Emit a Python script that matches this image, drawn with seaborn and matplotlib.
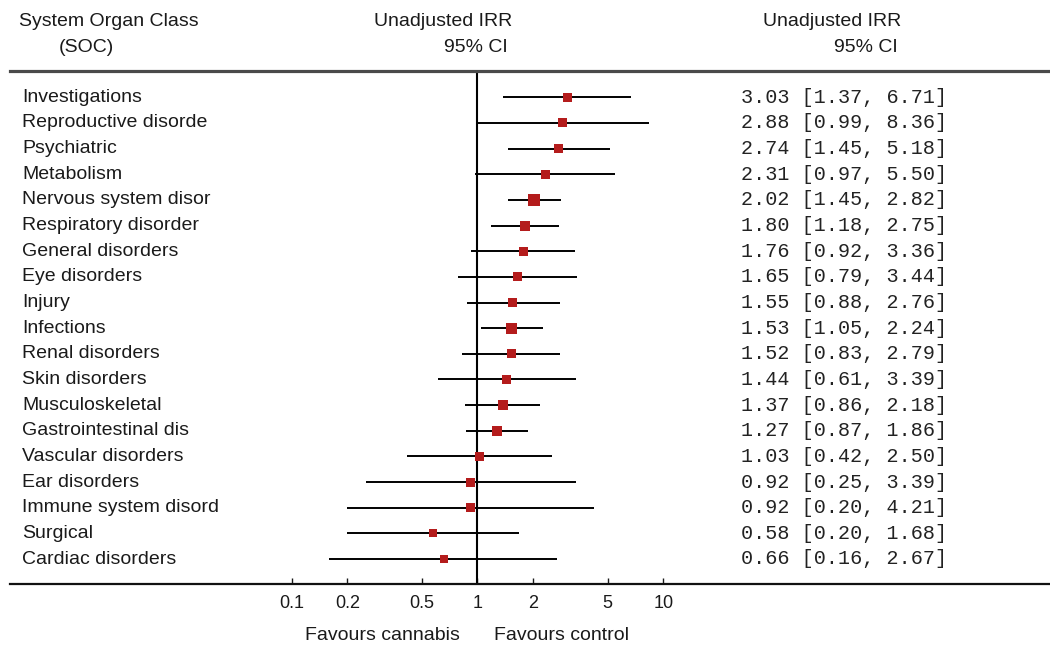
import numpy as np
import pandas as pd
import matplotlib
matplotlib.use('Agg')
import matplotlib.pyplot as plt
import matplotlib.transforms as mtransforms
import seaborn as sns

# data
soc = ['Investigations', 'Reproductive disorde', 'Psychiatric', 'Metabolism',
       'Nervous system disor', 'Respiratory disorder', 'General disorders',
       'Eye disorders', 'Injury', 'Infections', 'Renal disorders',
       'Skin disorders', 'Musculoskeletal', 'Gastrointestinal dis',
       'Vascular disorders', 'Ear disorders', 'Immune system disord',
       'Surgical', 'Cardiac disorders']
irr = [3.03, 2.88, 2.74, 2.31, 2.02, 1.80, 1.76, 1.65, 1.55, 1.53, 1.52,
       1.44, 1.37, 1.27, 1.03, 0.92, 0.92, 0.58, 0.66]
ci_low = [1.37, 0.99, 1.45, 0.97, 1.45, 1.18, 0.92, 0.79, 0.88, 1.05, 0.83,
          0.61, 0.86, 0.87, 0.42, 0.25, 0.20, 0.20, 0.16]
ci_high = [6.71, 8.36, 5.18, 5.50, 2.82, 2.75, 3.36, 3.44, 2.76, 2.24, 2.79,
           3.39, 2.18, 1.86, 2.50, 3.39, 4.21, 1.68, 2.67]
# box size (study weight) in pixels
box_px = [9, 9, 9, 9, 12, 10, 9, 9, 9, 11, 9, 9, 10, 10, 9, 9, 9, 8, 8]
xticks = [0.1, 0.2, 0.5, 1, 2, 5, 10]
xtick_labels = ['0.1', '0.2', '0.5', '1', '2', '5', '10']

sns.set_style('white')
plt.rcParams['font.family'] = ['Liberation Sans', 'DejaVu Sans']

df = pd.DataFrame({'soc': soc, 'irr': irr, 'lo': ci_low, 'hi': ci_high,
                   'row': np.arange(len(soc))})

W, H = 1050, 647
top_px, bot_px, left_px = 71, 584, 10
fig = plt.figure(figsize=(W / 100, H / 100), dpi=100)
ax = fig.add_axes([left_px / W, (H - bot_px) / H, 1 - left_px / W,
                   (bot_px - top_px) / H])

# log axis: 1 sits at x=477.5 px, one decade = 186 px
x0, dec = 477.5, 186.0
ax.set_xscale('log')
ax.set_xlim(10 ** ((left_px - x0) / dec), 10 ** ((W - x0) / dec))
# rows: first at y=97.3 px, spacing 25.65 px
r0, dr = 97.3, 25.65
ax.set_ylim((bot_px - r0) / dr, (top_px - r0) / dr)

ax.hlines(df['row'], df['lo'], df['hi'], color='black', lw=1.4, zorder=2)
ax.axvline(1, color='black', lw=1.5, zorder=1)
sns.scatterplot(data=df, x='irr', y='row', marker='s',
                s=(np.array(box_px) * 0.72) ** 2, color='#b41c1c',
                edgecolor='#b41c1c', linewidth=0, ax=ax, legend=False, zorder=3)

for side in ['left', 'right']:
    ax.spines[side].set_visible(False)
ax.spines['top'].set_color('#4a4a4a')
ax.spines['top'].set_linewidth(2.3)
ax.spines['bottom'].set_color('#111111')
ax.spines['bottom'].set_linewidth(1.6)

ax.set_xticks(xticks)
ax.set_xticklabels(xtick_labels)
ax.minorticks_off()
ax.set_yticks([])
ax.tick_params(axis='x', bottom=True, direction='in', length=4, width=1,
               labelsize=13, pad=8, colors='#1a1a1a')
ax.set_xlabel('')
ax.set_ylabel('')

trans = mtransforms.blended_transform_factory(fig.transFigure, ax.transData)
for _, r in df.iterrows():
    ax.text(22 / W, r['row'], r['soc'], transform=trans, ha='left',
            va='center', fontsize=14, color='#1a1a1a')
    ax.text(741 / W, r['row'], f"{r['irr']:.2f} [{r['lo']:.2f}, {r['hi']:.2f}]",
            transform=trans, ha='left', va='center', fontsize=14.5,
            family='Liberation Mono', color='#222222')

# header
hdr = dict(fontsize=14, va='center', color='#1a1a1a')
fig.text(19 / W, 1 - 22 / H, 'System Organ Class', ha='left', **hdr)
fig.text(59 / W, 1 - 48 / H, '(SOC)', ha='left', **hdr)
fig.text(512 / W, 1 - 22 / H, 'Unadjusted IRR', ha='right', **hdr)
fig.text(508 / W, 1 - 48 / H, '95% CI', ha='right', **hdr)
fig.text(901 / W, 1 - 22 / H, 'Unadjusted IRR', ha='right', **hdr)
fig.text(898 / W, 1 - 48 / H, '95% CI', ha='right', **hdr)

fig.text(382 / W, 1 - 636 / H, 'Favours cannabis', ha='center', **hdr)
fig.text(562 / W, 1 - 636 / H, 'Favours control', ha='center', **hdr)

fig.savefig('out.png', dpi=100, facecolor='white')
